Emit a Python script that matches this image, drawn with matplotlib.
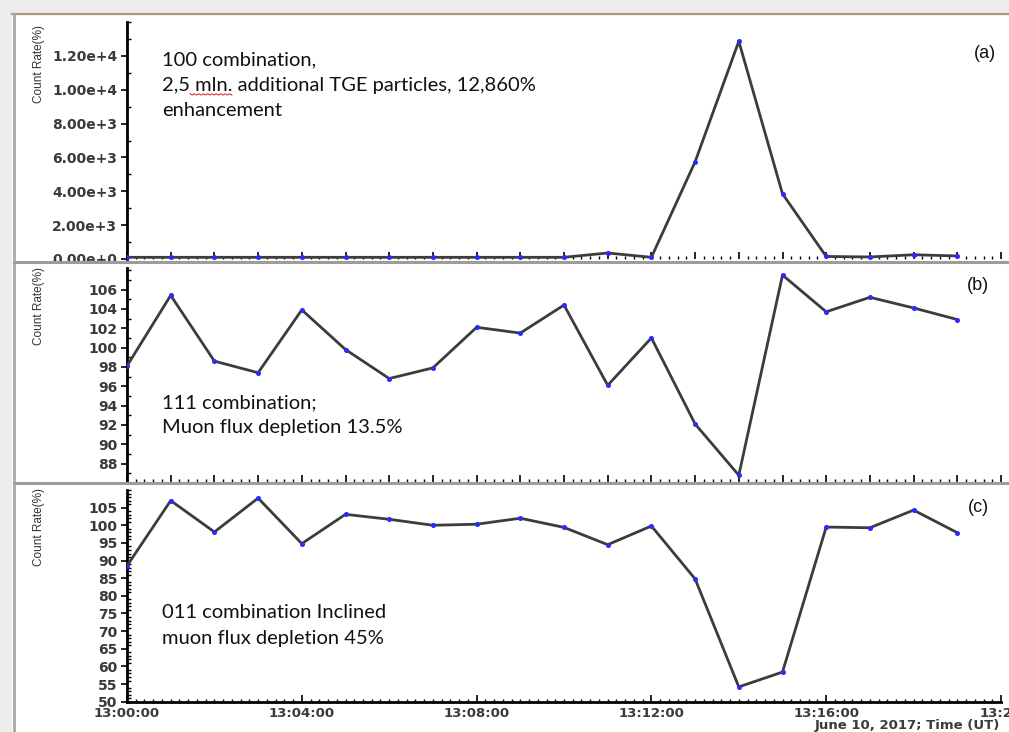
import matplotlib
matplotlib.use("Agg")
import matplotlib.pyplot as plt
from matplotlib.lines import Line2D
from matplotlib.patches import Rectangle
from matplotlib.ticker import MultipleLocator, FixedLocator

# ---------------- data ----------------
minutes = list(range(20))  # 13:00 .. 13:19
rate_100 = [100, 100, 100, 100, 100, 100, 100, 100, 100, 100,
            100, 355, 100, 5740, 12860, 3850, 150, 120, 250, 180]
rate_111 = [98.1, 105.4, 98.6, 97.4, 103.9, 99.8, 96.8, 97.9, 102.1, 101.5,
            104.4, 96.1, 101.0, 92.1, 86.8, 107.5, 103.7, 105.2, 104.1, 102.9]
rate_011 = [88.5, 107.0, 98.1, 107.7, 94.8, 103.1, 101.7, 100.0, 100.3, 102.0,
            99.4, 94.5, 99.8, 84.8, 54.2, 58.4, 99.5, 99.3, 104.3, 97.9]

ticks_a = [0, 2000, 4000, 6000, 8000, 10000, 12000]
ticklabels_a = ["0.00e+0", "2.00e+3", "4.00e+3", "6.00e+3", "8.00e+3", "1.00e+4", "1.20e+4"]
ticks_b = [88, 90, 92, 94, 96, 98, 100, 102, 104, 106]
ticks_c = [50, 55, 60, 65, 70, 75, 80, 85, 90, 95, 100, 105]
xtick_pos = [0, 4, 8, 12, 16, 20]
xtick_labels = ["13:00:00", "13:04:00", "13:08:00", "13:12:00", "13:16:00", "13:20"]

notes_a = ["100 combination,", "2,5 mln. additional TGE particles, 12,860%", "enhancement"]
notes_b = ["111 combination;", "Muon flux depletion 13.5%"]
notes_c = ["011 combination Inclined", "muon flux depletion 45%"]
panel_tags = ["(a)", "(b)", "(c)"]
ylabel = "Count Rate(%)"
xlabel = "June 10, 2017; Time (UT)"

# ---------------- layout ----------------
W, H = 1009, 732
fig = plt.figure(figsize=(W / 100, H / 100), dpi=100)
fig.patch.set_facecolor("white")

def fx(x):
    return x / W

def fy(y):
    return 1 - y / H

def make_ax(top, bottom):
    return fig.add_axes([fx(127), fy(bottom), fx(1001) - fx(127), (bottom - top) / H])

ax_a = make_ax(22, 259)
ax_b = make_ax(268.3, 482)
ax_c = make_ax(490, 701.7)

tick_font = dict(family="DejaVu Sans", weight="bold", size=10, color="#3a3a3a")
xtick_font = dict(family="DejaVu Sans", weight="bold", size=9.5, color="#3a3a3a")
line_kw = dict(color="#3c3c3c", lw=2.0, marker="o", ms=2.6,
               mfc="#2b2bff", mec="#2b2bff", zorder=3)

for ax in (ax_a, ax_b, ax_c):
    ax.set_facecolor("none")
    ax.set_xlim(0, 20)
    for s in ("top", "right"):
        ax.spines[s].set_visible(False)
    ax.spines["left"].set_linewidth(2.0)
    ax.spines["left"].set_color("black")
    ax.xaxis.set_major_locator(MultipleLocator(1))
    ax.xaxis.set_minor_locator(MultipleLocator(0.2))
    ax.tick_params(axis="x", which="major", direction="in", length=5, width=1.2, color="black")
    ax.tick_params(axis="x", which="minor", direction="in", length=2, width=1.0, color="black")
    ax.tick_params(axis="y", which="major", direction="out", length=4, width=1.2, pad=3)
    ax.tick_params(axis="y", which="minor", direction="in", length=3, width=1.0)

# panel a
ax_a.plot(minutes, rate_100, **line_kw)
ax_a.set_ylim(0, 14000)
ax_a.yaxis.set_major_locator(FixedLocator(ticks_a))
ax_a.set_yticklabels(ticklabels_a, **tick_font)
ax_a.yaxis.set_minor_locator(MultipleLocator(1000))
ax_a.spines["bottom"].set_visible(False)
ax_a.set_xticklabels([])

# panel b
ax_b.plot(minutes, rate_111, **line_kw)
ax_b.set_ylim(86.1, 108.2)
ax_b.yaxis.set_major_locator(FixedLocator(ticks_b))
ax_b.set_yticklabels([str(t) for t in ticks_b], **tick_font)
ax_b.yaxis.set_minor_locator(MultipleLocator(1))
ax_b.spines["bottom"].set_visible(False)
ax_b.set_xticklabels([])

# panel c
ax_c.plot(minutes, rate_011, **line_kw)
ax_c.set_ylim(50, 110)
ax_c.yaxis.set_major_locator(FixedLocator(ticks_c))
ax_c.set_yticklabels([str(t) for t in ticks_c], **tick_font)
ax_c.yaxis.set_minor_locator(MultipleLocator(1))
ax_c.spines["bottom"].set_linewidth(2.0)
ax_c.spines["bottom"].set_color("black")
ax_c.set_xticks(xtick_pos)
ax_c.set_xticklabels(xtick_labels, **xtick_font)
ax_c.tick_params(axis="x", which="major", pad=3.5)

# ---------------- frame / separators ----------------
fig.add_artist(Rectangle((0, fy(13)), 1, 13 / H, transform=fig.transFigure,
                         facecolor="#ececec", edgecolor="none", zorder=0))
fig.add_artist(Rectangle((0, 0), fx(12), fy(13), transform=fig.transFigure,
                         facecolor="#ececec", edgecolor="none", zorder=0))
fig.add_artist(Line2D([fx(12), 1], [fy(14), fy(14)], transform=fig.transFigure,
                      color="#a89c7c", lw=1.6))
fig.add_artist(Line2D([fx(14), fx(14)], [0, fy(14)], transform=fig.transFigure,
                      color="#a8a8a8", lw=2.0))
for ysep in (262, 483):
    fig.add_artist(Line2D([fx(14), 1], [fy(ysep), fy(ysep)], transform=fig.transFigure,
                          color="#9c9c9c", lw=2.2, zorder=5))

# ---------------- texts ----------------
ylabel_font = dict(family=["Liberation Sans Narrow", "Liberation Sans", "DejaVu Sans"],
                   size=8.5, color="#333333", rotation=90, ha="center", va="center")
for yc in (64, 306, 527):
    fig.text(fx(39), fy(yc), ylabel, **ylabel_font)

note_font = dict(family=["Lato", "Open Sans", "DejaVu Sans"], size=14.5,
                 color="#111111", ha="left", va="baseline")
for lines, first_base, step in ((notes_a, 65, 25.5), (notes_b, 408, 25.5), (notes_c, 618, 26)):
    for i, txt in enumerate(lines):
        fig.text(fx(162), fy(first_base + i * step), txt, **note_font)

# red spell-check squiggle under "mln."
sq_x = [190 + 2.2 * i for i in range(20)]
sq_y = [94 + (1 if i % 2 else -0.2) for i in range(20)]
fig.add_artist(Line2D([fx(v) for v in sq_x], [fy(v) for v in sq_y],
                      transform=fig.transFigure, color="#e03030", lw=0.8))

tag_font = dict(family=["Liberation Sans", "DejaVu Sans"], size=13,
                color="#111111", ha="center", va="center")
for (tx, ty), tag in zip([(985, 54), (978, 285), (978, 507)], panel_tags):
    fig.text(fx(tx), fy(ty), tag, **tag_font)

fig.text(fx(1000), fy(725.5), xlabel, ha="right", va="center", **xtick_font)

fig.savefig("out.png", dpi=100)
